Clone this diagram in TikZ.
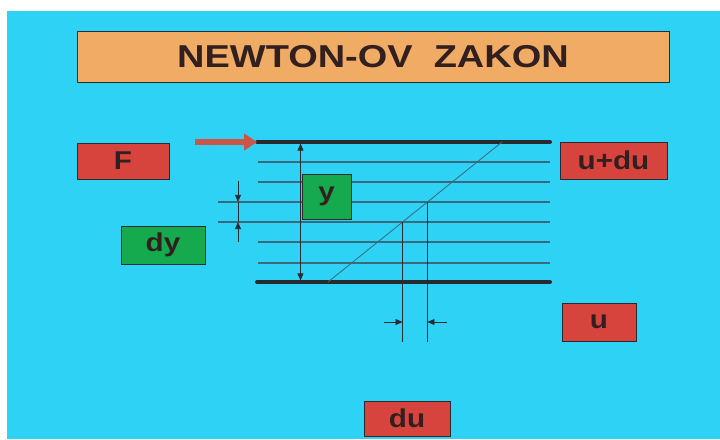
\documentclass[tikz,border=0pt]{standalone}
\usepackage{fontspec}
\setmainfont{Liberation Sans}
\usetikzlibrary{arrows.meta,calc}
\definecolor{bgcyan}{RGB}{45,210,245}
\definecolor{boxred}{RGB}{215,68,62}
\definecolor{boxgreen}{RGB}{22,170,78}
\definecolor{boxorange}{RGB}{240,172,100}
\definecolor{txtdark}{RGB}{50,32,32}
\definecolor{layercol}{RGB}{60,105,125}
\definecolor{platecol}{RGB}{40,42,50}
\definecolor{pushred}{RGB}{205,85,72}
\newcommand{\lbltext}[1]{\scalebox{1.15}[1]{#1}}
\tikzset{
  labelbox/.style={draw=platecol,line width=0.8pt,text=txtdark,
    font=\fontsize{22}{24}\selectfont\bfseries,inner sep=0pt},
  redbox/.style={labelbox,fill=boxred},
  greenbox/.style={labelbox,fill=boxgreen},
  layer/.style={layercol,line width=0.9pt},
  dimline/.style={platecol,line width=0.6pt},
  dimarrow/.style={dimline,-{Triangle[length=6pt,width=5pt]}}
}
\begin{document}
\begin{tikzpicture}[x=0.03cm,y=-0.03cm]
    \useasboundingbox (0,0) rectangle (720,439);
    \fill[white] (0,0) rectangle (720,439);
    \fill[bgcyan] (7,11) rectangle (720,439);
    % Title
    \node[labelbox,fill=boxorange,minimum width=592*0.03cm,minimum height=51*0.03cm,
      font=\fontsize{27}{29}\selectfont\bfseries] (title) at (373,56.5)
      {\scalebox{1.2}[1]{NEWTON-OV\ \ ZAKON}};
    % Fluid layers between the plates
    \foreach \y in {162,182,242,263} {
      \draw[layer] (258,\y) -- (550,\y);
    }
    \foreach \y in {202,222} {
      \draw[layer] (218,\y) -- (550,\y);
    }
    % Plates
    \coordinate (topL) at (257,142);
    \coordinate (topR) at (550,142);
    \coordinate (botL) at (257,282);
    \coordinate (botR) at (550,282);
    \draw[platecol,line width=3.4pt,line cap=round] (topL) -- (topR);
    \draw[platecol,line width=3.4pt,line cap=round] (botL) -- (botR);
    % Force on the upper plate
    \coordinate (pushA) at (195,142);
    \draw[pushred,line width=5.5pt,-{Triangle[length=11pt,width=14pt]}] (pushA) -- (topL);
    % Velocity profile
    \coordinate (profBot) at (328,282);
    \coordinate (profTop) at (502,142);
    \draw[layer,line width=0.7pt] (profBot) -- (profTop);
    \coordinate (du1) at ($(profBot)!0.4286!(profTop)$);
    \coordinate (du2) at ($(profBot)!0.5714!(profTop)$);
    \coordinate (du1e) at (du1 |- 0,342);
    \coordinate (du2e) at (du2 |- 0,342);
    \draw[dimline] (du1) -- (du1e);
    \draw[dimline] (du2) -- (du2e);
    \coordinate (duL) at (384,322);
    \coordinate (duR) at (447,322);
    \draw[dimarrow] (duL) -- (duL -| du1);
    \draw[dimarrow] (duR) -- (duR -| du2);
    % Dimension y
    \coordinate (yTop) at (300.5,143.5);
    \coordinate (yBot) at (300.5,280.5);
    \draw[dimline,{Triangle[length=6pt,width=5pt]}-{Triangle[length=6pt,width=5pt]}] (yTop) -- (yBot);
    % Dimension dy
    \coordinate (dyA) at (238,181);
    \coordinate (dyB) at (238,202);
    \coordinate (dyC) at (238,222);
    \coordinate (dyD) at (238,242);
    \draw[dimline] (dyB) -- (dyC);
    \draw[dimarrow] (dyA) -- (dyB);
    \draw[dimarrow] (dyD) -- (dyC);
    % Labels
    \node[redbox,minimum width=92*0.03cm,minimum height=36*0.03cm] (F) at (123,161) {\lbltext{F}};
    \node[greenbox,minimum width=84*0.03cm,minimum height=38*0.03cm] (dy) at (163,245) {\lbltext{dy}};
    \node[greenbox,minimum width=49*0.03cm,minimum height=45*0.03cm] (y) at (326.5,196.5) {\lbltext{y}};
    \node[redbox,minimum width=107*0.03cm,minimum height=37*0.03cm] (udu) at (613.5,160.5) {\lbltext{u+du}};
    \node[redbox,minimum width=74*0.03cm,minimum height=38*0.03cm] (u) at (599,322) {\lbltext{u}};
    \node[redbox,minimum width=86*0.03cm,minimum height=35*0.03cm] (du) at (407,418.5) {\lbltext{du}};
\end{tikzpicture}
\end{document}
